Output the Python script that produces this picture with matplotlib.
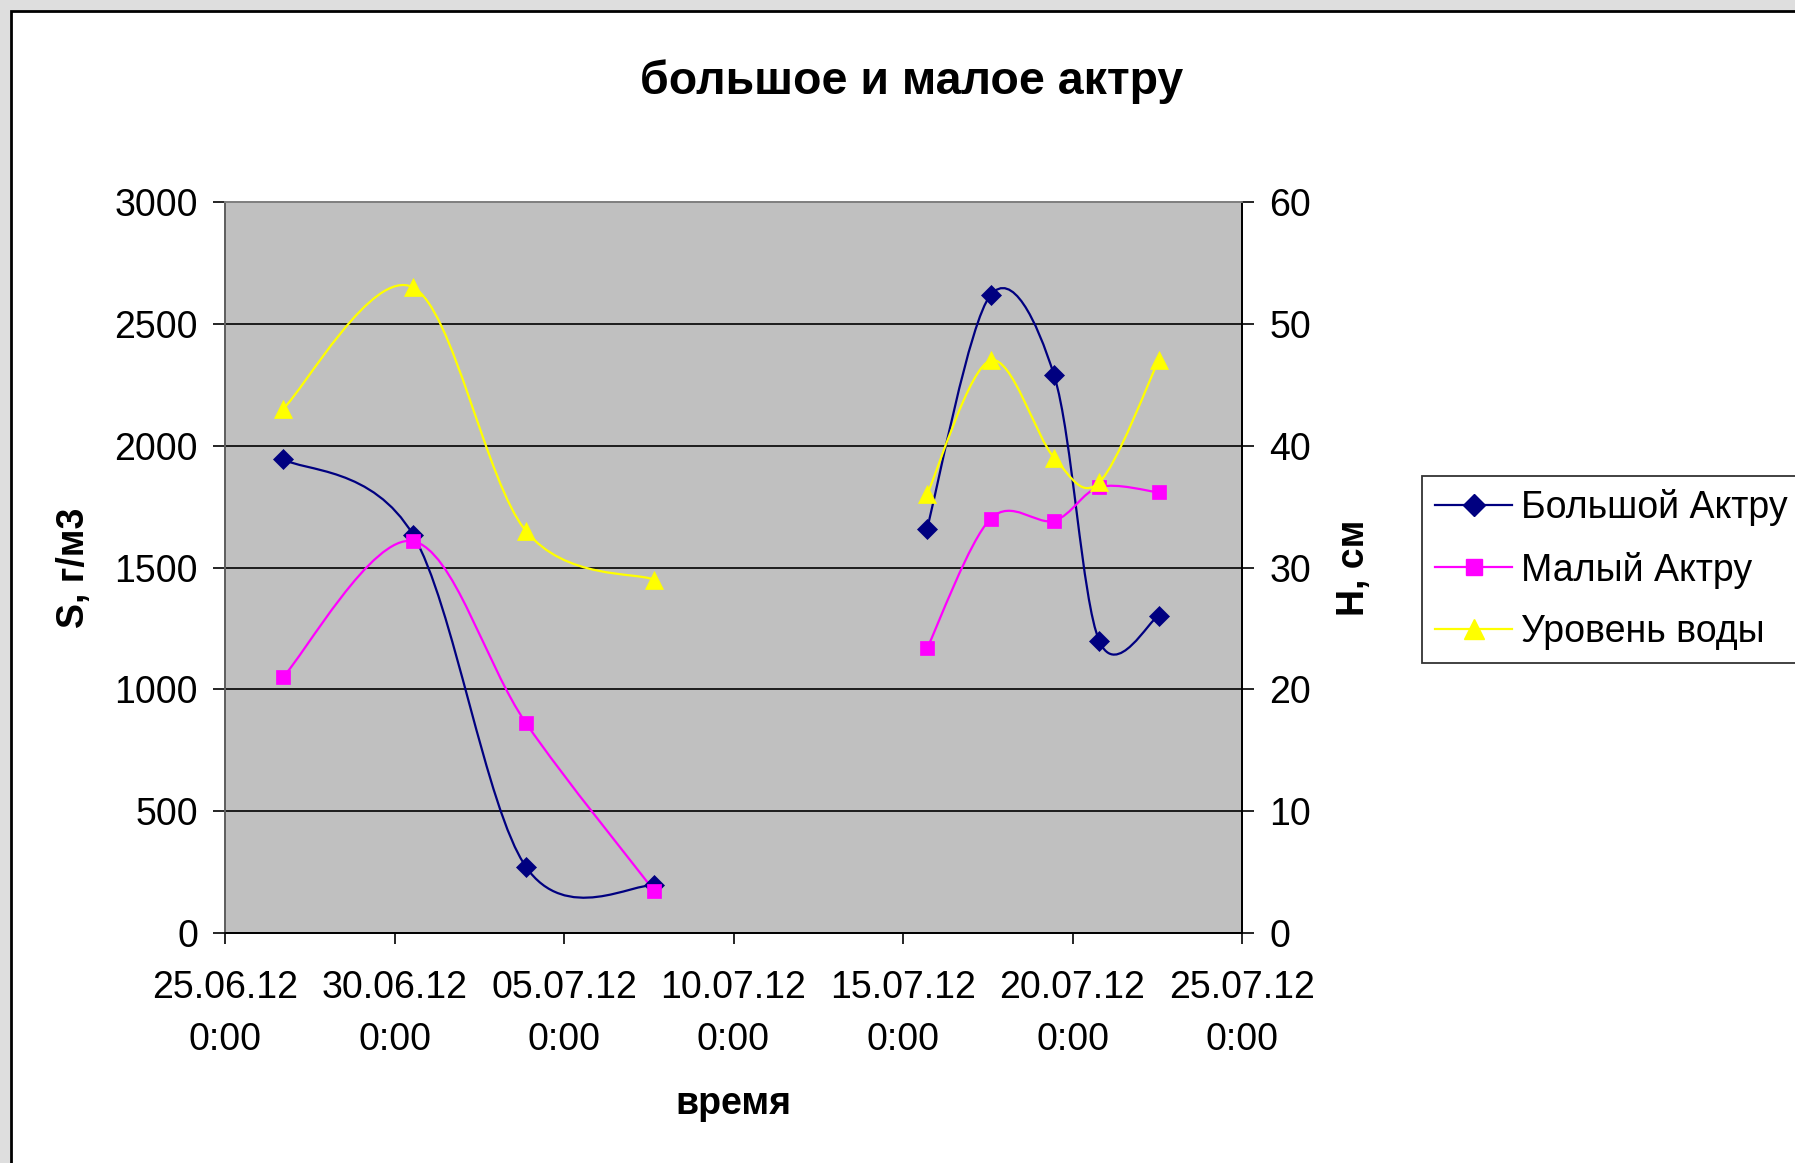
import matplotlib
matplotlib.use("Agg")
import matplotlib.pyplot as plt
import matplotlib.dates as mdates
from matplotlib.path import Path
from matplotlib.patches import PathPatch, Rectangle
from matplotlib.lines import Line2D
from matplotlib.ticker import FuncFormatter
import numpy as np
import pandas as pd

plt.rcParams["font.family"] = ["Liberation Sans", "DejaVu Sans"]

# --- data ---------------------------------------------------------------
# two measuring campaigns, nothing recorded in between
times_1 = ["2012-06-26 17:00", "2012-06-30 13:00", "2012-07-03 21:00", "2012-07-07 16:00"]
times_2 = ["2012-07-15 17:00", "2012-07-17 14:00", "2012-07-19 11:00",
           "2012-07-20 19:00", "2012-07-22 13:00"]

big_1 = [1945, 1635, 272, 195]            # Большой Актру, г/м3
big_2 = [1660, 2618, 2288, 1198, 1302]
small_1 = [1050, 1608, 862, 172]          # Малый Актру, г/м3
small_2 = [1168, 1700, 1692, 1830, 1808]
level_1 = [43, 53, 33, 29]                # Уровень воды, см
level_2 = [36, 47, 39, 37, 47]

s_ticks = [0, 500, 1000, 1500, 2000, 2500, 3000]
h_ticks = [0, 10, 20, 30, 40, 50, 60]
date_ticks = pd.date_range("2012-06-25", "2012-07-25", freq="5D")

labels = ["Большой Актру", "Малый Актру", "Уровень воды"]
colors = ["#000080", "#FF00FF", "#FFFF00"]
markers = ["D", "s", "^"]
msizes = [10, 10.5, 13.5]

FS = 27


def smooth_path(x, y):
    """Excel-like smoothed line: Catmull-Rom through the points as Bezier pieces."""
    pts = np.column_stack([np.asarray(x, float), np.asarray(y, float)])
    n = len(pts)
    verts, codes = [pts[0]], [Path.MOVETO]
    for i in range(n - 1):
        p0, p1 = pts[max(i - 1, 0)], pts[i]
        p2, p3 = pts[i + 1], pts[min(i + 2, n - 1)]
        verts += [p1 + (p2 - p0) / 6, p2 - (p3 - p1) / 6, p2]
        codes += [Path.CURVE4] * 3
    return Path(verts, codes)


def draw_series(ax, t, v, k):
    x = mdates.date2num(pd.to_datetime(t))
    ax.add_patch(PathPatch(smooth_path(x, v), fill=False, edgecolor=colors[k],
                           lw=1.6, zorder=3))
    ax.plot(x, v, ls="none", marker=markers[k], ms=msizes[k], color=colors[k],
            mec=colors[k], mew=0.5, zorder=4)


fig = plt.figure(figsize=(17.95, 11.63), dpi=100, facecolor="#dedede")
fig.add_artist(Rectangle((11 / 1795, -0.01), 1.0, 1 - 11 / 1163 + 0.01,
                         transform=fig.transFigure, facecolor="white",
                         edgecolor="black", lw=2, zorder=-10))

ax = fig.add_axes([225 / 1795, 1 - 933 / 1163, 1017 / 1795, 731 / 1163])
ax.set_facecolor("#C0C0C0")
ax2 = ax.twinx()

for t, b, s in [(times_1, big_1, small_1), (times_2, big_2, small_2)]:
    draw_series(ax, t, b, 0)
    draw_series(ax, t, s, 1)
for t, h in [(times_1, level_1), (times_2, level_2)]:
    draw_series(ax2, t, h, 2)

ax.set_xlim(mdates.date2num(date_ticks[0]), mdates.date2num(date_ticks[-1]))
ax.set_xticks(mdates.date2num(date_ticks))
ax.xaxis.set_major_formatter(FuncFormatter(
    lambda v, pos: "{0:%d.%m.%y}\n{0.hour}:{0:%M}".format(mdates.num2date(v))))
ax.set_ylim(0, 3000)
ax.set_yticks(s_ticks)
ax2.set_ylim(0, 60)
ax2.set_yticks(h_ticks)

ax.yaxis.grid(True, color="black", lw=1.2)
ax.set_axisbelow(True)

for a in (ax, ax2):
    a.spines["top"].set_color("#808080")
    a.spines["left"].set_color("#606060")
    a.spines["bottom"].set_color("black")
    a.spines["right"].set_color("black")
    for sp in a.spines.values():
        sp.set_linewidth(1.3)

ax.tick_params(axis="y", length=8.5, width=1.2, labelsize=FS, pad=11)
ax.tick_params(axis="x", length=8, width=1.2, labelsize=FS, pad=19)
ax2.tick_params(axis="y", length=8.5, width=1.2, labelsize=FS, pad=11)
for lab in ax.get_xticklabels():
    lab.set_linespacing(1.55)

ax.set_ylabel("S, г/м3", fontsize=FS, fontweight="bold", labelpad=16)
ax2.set_ylabel("H, см", fontsize=FS, fontweight="bold", labelpad=18)
ax.set_xlabel("время", fontsize=FS, fontweight="bold", labelpad=20)

fig.text(912 / 1795, 1 - 82 / 1163, "большое и малое актру", ha="center",
         va="center", fontsize=33.5, fontweight="bold")

handles = [Line2D([], [], color=c, lw=1.6, marker=m, ms=ms * 1.1, mec=c)
           for c, m, ms in zip(colors, markers, msizes)]
leg = fig.legend(handles, labels, loc="upper left",
                 bbox_to_anchor=(1422 / 1795, 1 - 476 / 1163), fontsize=FS,
                 frameon=True, fancybox=False, borderaxespad=0, borderpad=0.35,
                 handlelength=2.05, handletextpad=0.25, labelspacing=0.68)
leg.get_frame().set_edgecolor("black")
leg.get_frame().set_linewidth(1.3)

fig.savefig("out.png", dpi=100, facecolor=fig.get_facecolor())
